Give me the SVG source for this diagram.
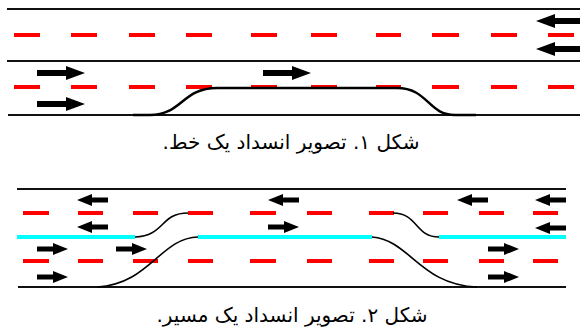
<svg xmlns="http://www.w3.org/2000/svg" width="580" height="336" viewBox="0 0 580 336">
<defs>
<style>
.road{stroke:#111;stroke-width:2;fill:none}
.dash{stroke:#ff0000;stroke-width:4;fill:none}
.cyan{stroke:#00ffff;stroke-width:4;fill:none}
.block1{stroke:#000;stroke-width:2.5;fill:none}
.block2{stroke:#000;stroke-width:1.6;fill:none}
.cap{font-family:"DejaVu Sans",sans-serif;font-size:20px;fill:#000}
</style>
<g id="arrowR1"><rect x="0" y="-3" width="30" height="6" fill="#000"/><polygon points="29,-7 48,0 29,7" fill="#000"/></g>
<g id="arrowL1"><rect x="18" y="-3" width="30" height="6" fill="#000"/><polygon points="19,-7 0,0 19,7" fill="#000"/></g>
<g id="arrowR2"><rect x="0" y="-2.5" width="17" height="5" fill="#000"/><polygon points="16,-6 31,0 16,6" fill="#000"/></g>
<g id="arrowL2"><rect x="14" y="-2.5" width="17" height="5" fill="#000"/><polygon points="15,-6 0,0 15,6" fill="#000"/></g>
</defs>

<g id="figure1">
  <g id="roads1">
    <line class="road" x1="7" y1="9" x2="580" y2="9"/>
    <line class="road" x1="7" y1="61" x2="580" y2="61"/>
    <line class="road" x1="8" y1="115" x2="580" y2="115"/>
  </g>
  <g id="lanes1">
    <path class="dash" d="M14,35h26M71,35h26M129,35h26M186,35h26M251,35h26M311,35h26M376,35h25M432,35h27M491,35h26M548,35h26"/>
    <path class="dash" d="M14,87h26M71,87h26M129,87h26M186,87h26M251,87h26M311,87h26M376,87h25M432,87h27M491,87h26M548,87h26"/>
  </g>
  <g id="arrows1">
    <use href="#arrowR1" x="37" y="73"/>
    <use href="#arrowR1" x="37" y="104"/>
    <use href="#arrowR1" x="263" y="73"/>
    <use href="#arrowL1" x="536" y="21"/>
    <use href="#arrowL1" x="536" y="49"/>
  </g>
  <g id="obstruction1">
    <path class="block1" d="M133,115 L150,115 C182,115 182,88 217,88 L397,88 C428,88 428,115 455,115 L476,115"/>
  </g>
  <text class="cap" x="291" y="149" text-anchor="middle" direction="rtl">شکل ۱. تصویر انسداد یک خط.</text>
</g>

<g id="figure2">
  <g id="roads2">
    <line class="road" x1="17" y1="189" x2="566" y2="189"/>
    <line class="road" x1="18" y1="287" x2="566" y2="287"/>
  </g>
  <g id="lanes2">
    <path class="dash" d="M23,213h26M78,213h25M133,213h25M188,213h25M250,213h26M307,213h25M369,213h25M423,213h25M479,213h25M533,213h25"/>
    <path class="dash" d="M23,261h26M78,261h25M133,261h25M188,261h25M250,261h26M307,261h25M369,261h25M423,261h25M479,261h25M533,261h25"/>
  </g>
  <g id="divider2">
    <path class="cyan" d="M17,237H135M198,237H372M439,237H566"/>
  </g>
  <g id="arrows2">
    <use href="#arrowL2" x="77" y="200"/>
    <use href="#arrowL2" x="77" y="227"/>
    <use href="#arrowL2" x="268" y="200"/>
    <use href="#arrowL2" x="457" y="200"/>
    <use href="#arrowL2" x="535" y="200"/>
    <use href="#arrowL2" x="535" y="228"/>
    <use href="#arrowR2" x="37" y="249"/>
    <use href="#arrowR2" x="116" y="249"/>
    <use href="#arrowR2" x="37" y="277"/>
    <use href="#arrowR2" x="268" y="227"/>
    <use href="#arrowR2" x="488" y="249"/>
    <use href="#arrowR2" x="488" y="277"/>
  </g>
  <g id="obstruction2">
    <path class="block2" d="M135,237 C165,236 160,213 188,213"/>
    <path class="block2" d="M97,287 C150,284 160,238 198,237"/>
    <path class="block2" d="M393,213 C418,213 415,237 439,237"/>
    <path class="block2" d="M372,237 C410,240 420,285 477,287"/>
  </g>
  <text class="cap" x="292" y="322" text-anchor="middle" direction="rtl">شکل ۲. تصویر انسداد یک مسیر.</text>
</g>
</svg>
